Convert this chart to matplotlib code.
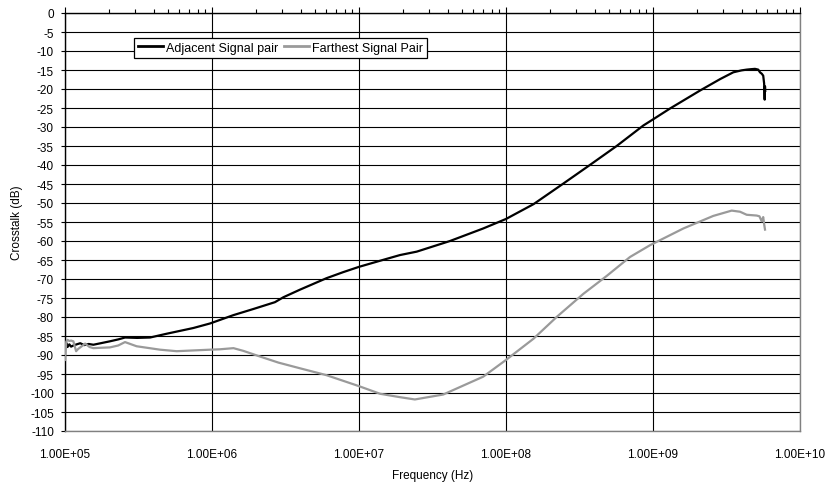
import matplotlib
matplotlib.use("Agg")
import matplotlib.pyplot as plt
from matplotlib.ticker import LogLocator, FixedLocator, NullFormatter

plt.rcParams['font.family'] = ['Liberation Sans', 'DejaVu Sans']

# Adjacent signal pair (frequency Hz, crosstalk dB)
adj_freq = [1.0e5, 1.02e5, 1.04e5, 1.07e5, 1.10e5, 1.14e5, 1.20e5, 1.27e5, 1.35e5, 1.45e5, 1.56e5,
            1.75e5, 2.02e5, 2.30e5, 2.56e5, 3.1e5, 3.79e5, 4.92e5, 7.46e5, 9.7e5, 1.4e6,
            1.91e6, 2.68e6, 3.06e6, 3.97e6, 6.0e6, 7.8e6, 1.0e7, 1.39e7, 1.9e7, 2.47e7,
            4.16e7, 7.0e7, 1.0e8, 1.54e8, 2.39e8, 3.72e8, 5.66e8, 8.6e8, 1.0e9, 1.31e9,
            2.09e9, 2.86e9, 3.52e9, 4.0e9, 4.34e9, 4.6e9, 4.94e9, 5.2e9, 5.34e9, 5.5e9,
            5.62e9, 5.7e9, 5.75e9, 5.78e9, 5.8e9]
adj_db = [-88.4, -86.8, -87.9, -87.2, -87.8, -87.5, -87.2, -86.9, -87.4, -87.1, -87.3,
          -86.9, -86.4, -85.9, -85.4, -85.5, -85.4, -84.4, -82.9, -81.7, -79.5,
          -77.9, -76.1, -74.8, -72.8, -69.8, -68.2, -66.8, -65.2, -63.7, -62.8,
          -60.0, -56.7, -54.2, -50.3, -45.2, -40.0, -35.0, -29.6, -28.0, -25.1,
          -20.4, -17.4, -15.6, -15.1, -14.9, -14.8, -14.7, -14.9, -15.6, -16.0,
          -16.5, -18.5, -22.8, -19.3, -20.5]

# Farthest signal pair
far_freq = [1.0e5, 1.02e5, 1.04e5, 1.07e5, 1.10e5, 1.14e5, 1.19e5, 1.23e5, 1.27e5, 1.37e5,
            1.47e5, 1.56e5, 1.75e5, 2.02e5, 2.3e5, 2.56e5, 3.07e5, 4.43e5, 5.75e5, 7.46e5,
            9.7e5, 1.13e6, 1.4e6, 1.63e6, 2.12e6, 2.83e6, 3.97e6, 6.0e6, 1.0e7, 1.39e7,
            1.9e7, 2.4e7, 3.74e7, 7.0e7, 1.0e8, 1.54e8, 2.21e8, 3.36e8, 4.84e8, 6.98e8,
            9.55e8, 1.61e9, 2.57e9, 3.43e9, 3.91e9, 4.34e9, 5.07e9, 5.3e9, 5.48e9, 5.62e9,
            5.7e9, 5.78e9]
far_db = [-91.3, -86.5, -86.0, -86.3, -86.2, -86.4, -89.0, -88.4, -88.0, -87.0,
          -87.9, -88.2, -88.1, -88.0, -87.5, -86.6, -87.7, -88.6, -89.0, -88.8,
          -88.6, -88.5, -88.2, -88.9, -90.4, -92.0, -93.5, -95.3, -98.2, -100.2,
          -101.1, -101.7, -100.4, -95.7, -91.3, -85.7, -80.0, -73.9, -69.2, -64.2,
          -61.1, -56.7, -53.4, -52.0, -52.3, -53.1, -53.3, -53.5, -54.8, -53.7,
          -55.5, -57.0]

x_ticks = [1e5, 1e6, 1e7, 1e8, 1e9, 1e10]
x_tick_labels = ["1.00E+05", "1.00E+06", "1.00E+07", "1.00E+08", "1.00E+09", "1.00E+10"]
y_ticks = list(range(-110, 1, 5))

fig = plt.figure(figsize=(8.3, 4.85), dpi=100)
ax = fig.add_axes([65/830, 1-432/485, (800-65)/830, (432-14)/485])

ax.plot(adj_freq, adj_db, color='black', lw=1.6, label='Adjacent Signal pair', zorder=3)
ax.plot(far_freq, far_db, color='#9a9a9a', lw=1.6, label='Farthest Signal Pair', zorder=3)

ax.set_xscale('log')
ax.set_xlim(1e5, 1e10)
ax.set_ylim(-110, 0)
ax.xaxis.set_major_locator(FixedLocator(x_ticks))
ax.set_xticklabels(x_tick_labels)
ax.xaxis.set_minor_locator(LogLocator(base=10, subs=range(2, 10), numticks=20))
ax.xaxis.set_minor_formatter(NullFormatter())
ax.set_yticks(y_ticks)
ax.set_yticklabels([str(v) for v in y_ticks])

ax.grid(True, which='major', axis='both', color='black', lw=0.8)
ax.set_axisbelow(True)

ax.tick_params(axis='x', which='both', bottom=False, top=True, labelbottom=True,
               labeltop=False, direction='out', color='black')
ax.tick_params(axis='x', which='major', length=4, width=0.8, pad=8, labelsize=8.5)
ax.tick_params(axis='x', which='minor', length=3, width=0.8)
ax.tick_params(axis='y', which='major', left=True, right=False, length=3, width=0.8,
               direction='out', pad=5, labelsize=8.5)

for s in ['bottom', 'right']:
    ax.spines[s].set_color('#808080')
    ax.spines[s].set_linewidth(1.0)
for s in ['top', 'left']:
    ax.spines[s].set_color('black')
    ax.spines[s].set_linewidth(1.0)

ax.set_xlabel('Frequency (Hz)', fontsize=8.5, labelpad=7)
ax.set_ylabel('Crosstalk (dB)', fontsize=8.5, labelpad=5)

leg = ax.legend(loc='upper left', bbox_to_anchor=(134/830, 1-39/485),
                bbox_transform=fig.transFigure, ncol=2, fontsize=9,
                frameon=True, fancybox=False, shadow=False, borderaxespad=0,
                handlelength=2.0, handletextpad=0.25, columnspacing=0.5,
                borderpad=0.3)
leg.get_frame().set_edgecolor('black')
leg.get_frame().set_linewidth(0.9)
leg.get_frame().set_alpha(1)
for line in leg.get_lines():
    line.set_linewidth(2.0)

fig.savefig('out.png', dpi=100)
